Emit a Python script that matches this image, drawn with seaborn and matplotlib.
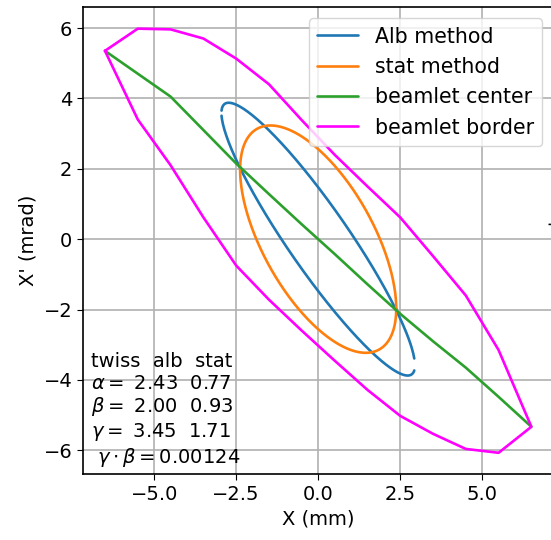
import numpy as np
import matplotlib
matplotlib.use("Agg")
import matplotlib.pyplot as plt
import seaborn as sns

# ---- data ----
grid_x = [-6.5, -5.5, -4.5, -3.5, -2.5, -1.5, -0.5, 0.5, 1.5, 2.5, 3.5, 4.5, 5.5, 6.5]
center_y = [5.35, 4.70, 4.05, 3.10, 2.15, 1.28, 0.42, -0.42, -1.28, -2.12, -2.90, -3.65, -4.48, -5.33]
border_upper = [5.35, 5.98, 5.96, 5.70, 5.13, 4.40, 3.38, 2.40, 1.50, 0.62, -0.48, -1.60, -3.15, -5.33]
border_lower = [5.35, 3.40, 2.10, 0.62, -0.75, -1.72, -2.60, -3.45, -4.28, -5.02, -5.53, -5.96, -6.07, -5.33]

methods = ["alb", "stat"]
twiss_alpha = [2.43, 0.77]
twiss_beta = [2.00, 0.93]
twiss_gamma = [3.45, 1.71]
emittance = [4.35, 6.09]          # mm*mrad, estimated from ellipse extent
alb_x_range = [-2.946, 2.930]     # sampled x range of Alb branches (gaps at ends)
gamma_beta_rel = 0.00124

# ---- style ----
sns.set_style("ticks", {"axes.grid": True, "grid.color": "#b0b0b0",
                        "axes.edgecolor": "black", "text.color": "black",
                        "axes.labelcolor": "black", "xtick.color": "black",
                        "ytick.color": "black"})
plt.rcParams["font.family"] = ["DejaVu Sans"]
plt.rcParams["font.size"] = 14
plt.rcParams["xtick.major.size"] = 4.5
plt.rcParams["ytick.major.size"] = 4.5
plt.rcParams["grid.linewidth"] = 1.2
plt.rcParams["axes.linewidth"] = 1.2

fig = plt.figure(figsize=(5.5105, 5.4005), dpi=100)
# the reference is cropped: the axes continue past the right edge of the picture
ax = fig.add_axes([0.1512, 0.1222, 0.90, 0.8639])

LW = 1.9

# Alb ellipse: two branches over sampled x
a, b, e = twiss_alpha[0], twiss_beta[0], emittance[0]
xs = np.linspace(alb_x_range[0], alb_x_range[1], 400)
root = np.sqrt(np.clip(e * b - xs ** 2, 0, None))
up = (-a * xs + root) / b
lo = (-a * xs - root) / b
sns.lineplot(x=xs, y=up, sort=False, estimator=None, color="#1f77b4", lw=LW,
             label="Alb method", ax=ax)
sns.lineplot(x=xs, y=lo, sort=False, estimator=None, color="#1f77b4", lw=LW, ax=ax)

# stat ellipse: closed curve
a, b, e = twiss_alpha[1], twiss_beta[1], emittance[1]
t = np.linspace(0, 2 * np.pi, 400)
ex = np.sqrt(e * b) * np.cos(t)
ey = -np.sqrt(e / b) * (a * np.cos(t) - np.sin(t))
sns.lineplot(x=ex, y=ey, sort=False, estimator=None, color="#ff7f0e", lw=LW,
             label="stat method", ax=ax)

# beamlet center
sns.lineplot(x=grid_x, y=center_y, sort=False, estimator=None, color="#2ca02c",
             lw=LW, label="beamlet center", ax=ax)

# beamlet border (closed polygon)
bx = list(grid_x) + list(grid_x[::-1])
by = list(border_upper) + list(border_lower[::-1])
sns.lineplot(x=bx, y=by, sort=False, estimator=None, color="#ff00ff", lw=LW,
             label="beamlet border", ax=ax)

ax.margins(0.05)
ax.set_xlim(-7.16, 7.96)
ax.set_xticks([-5.0, -2.5, 0.0, 2.5, 5.0])
ax.set_xlabel("X (mm)", x=(318.3 - 83.3) / (0.90 * 551), ha="center")
ax.set_ylabel("X' (mrad)")
ax.grid(True)

ax.legend(loc="upper right", fontsize=14.8, borderaxespad=0,
          bbox_to_anchor=(542 / 551, 1 - 18.5 / 540),
          bbox_transform=fig.transFigure)

txt = ("twiss  alb  stat\n"
       f"$\\alpha =$ {twiss_alpha[0]:.2f}  {twiss_alpha[1]:.2f}\n"
       f"$\\beta =$ {twiss_beta[0]:.2f}  {twiss_beta[1]:.2f}\n"
       f"$\\gamma =$ {twiss_gamma[0]:.2f}  {twiss_gamma[1]:.2f}\n"
       f" $\\gamma \\cdot \\beta = {gamma_beta_rel}$")
ax.text(91 / 551, 1 - 469 / 540, txt, transform=fig.transFigure, ha="left",
        va="bottom", fontsize=14, linespacing=1.17)

fig.text(547 / 551, 1 - 237 / 540, "counts", rotation=90, ha="left",
         va="center", fontsize=12)

fig.savefig("out.png", dpi=100)
